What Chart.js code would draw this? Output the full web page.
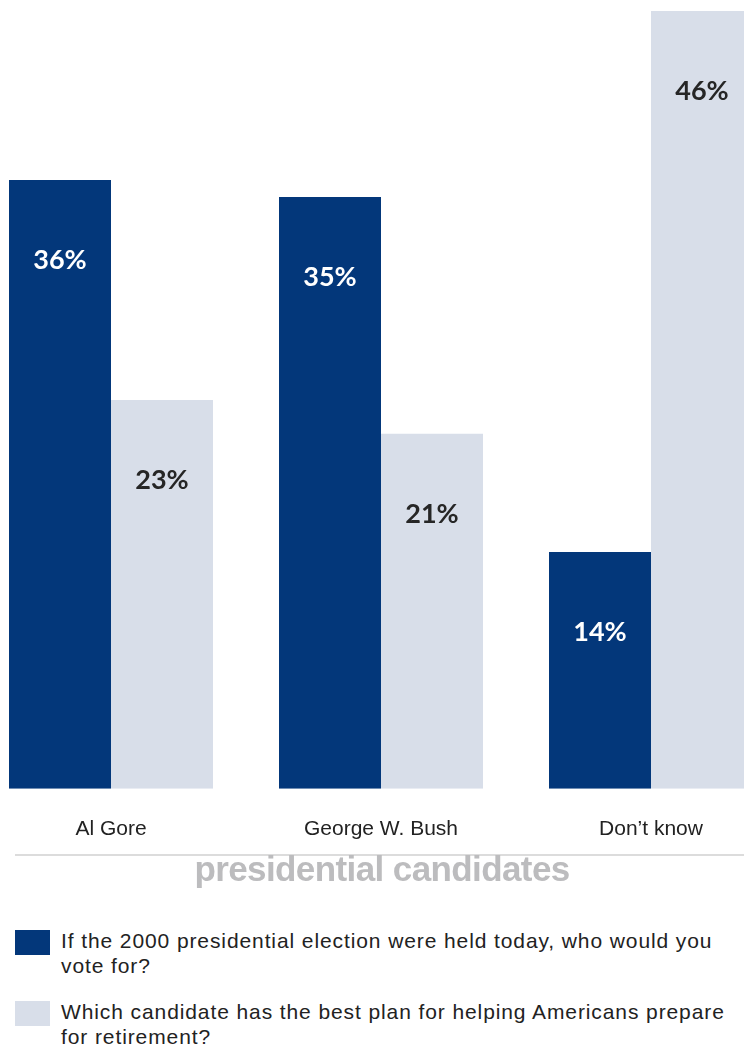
<!DOCTYPE html>
<html>
<head>
<meta charset="utf-8">
<script src="https://cdn.jsdelivr.net/npm/chart.js@4"></script>
<style>
  html, body { margin: 0; padding: 0; background: #fff; width: 744px; height: 1044px; overflow: hidden; position: relative; }
  #chart-wrap { position: absolute; left: -24px; top: 0; width: 810px; height: 870px; }
  #rule { position: absolute; left: 15px; top: 854px; width: 729px; height: 2px; background: #dcdcdc; }
  #axis-title { position: absolute; left: 0; width: 764px; top: 849px; text-align: center; font-family: "Liberation Sans", Arial, sans-serif; font-weight: bold; font-size: 35px; letter-spacing: -0.6px; color: #bcbcbe; }
  .legend-item { position: absolute; left: 15px; width: 720px; font-family: "Liberation Sans", Arial, sans-serif; font-size: 21px; letter-spacing: 0.9px; line-height: 25px; color: #222; }
  .legend-item .box { position: absolute; left: 0; top: 2px; width: 35px; height: 25px; }
  .legend-item .txt { margin-left: 46px; width: 670px; }
</style>
</head>
<body>
<div id="chart-wrap"><canvas id="pollChart" width="810" height="870"></canvas></div>
<div id="rule"></div>
<div id="axis-title">presidential candidates</div>
<div class="legend-item" style="top: 928px;"><span class="box" style="background:#03377a;"></span><div class="txt">If the 2000 presidential election were held today, who would you vote for?</div></div>
<div class="legend-item" style="top: 999px;"><span class="box" style="background:#d8dee9;"></span><div class="txt">Which candidate has the best plan for helping Americans prepare for retirement?</div></div>
<script>
const categories = ['Al Gore', 'George W. Bush', 'Don\u2019t know'];
const voteToday = [36, 35, 14];
const retirementPlan = [23, 21, 46];
const seriesColors = ['#03377a', '#d8dee9'];
const labelColors = ['#ffffff', '#262626'];

const valueLabels = {
    id: 'valueLabels',
    afterDatasetsDraw(chart) {
        const ctx = chart.ctx;
        ctx.save();
        ctx.font = 'bold 27px Lato, "Open Sans", sans-serif';
        ctx.textAlign = 'center';
        ctx.textBaseline = 'alphabetic';
        chart.data.datasets.forEach((ds, di) => {
            chart.getDatasetMeta(di).data.forEach((bar, i) => {
                ctx.fillStyle = labelColors[di];
                ctx.fillText(ds.data[i] + '%', bar.x, bar.y + 89);
            });
        });
        ctx.restore();
    }
};

new Chart(document.getElementById('pollChart').getContext('2d'), {
    type: 'bar',
    data: {
        labels: categories,
        datasets: [
            { label: 'vote', data: voteToday, backgroundColor: seriesColors[0], borderWidth: 0 },
            { label: 'plan', data: retirementPlan, backgroundColor: seriesColors[1], borderWidth: 0 }
        ]
    },
    options: {
        responsive: false,
        animation: false,
        layout: { padding: { top: 11, left: 0, right: 0, bottom: 0 } },
        datasets: { bar: { categoryPercentage: 204 / 270, barPercentage: 1.0 } },
        scales: {
            y: { display: false, min: 0, max: 46 },
            x: {
                grid: { display: false, drawTicks: false },
                border: { display: false },
                ticks: { color: '#222', padding: 28, font: { family: '"Liberation Sans", Arial, sans-serif', size: 21 } }
            }
        },
        plugins: { legend: { display: false }, tooltip: { enabled: false } }
    },
    plugins: [valueLabels]
});
</script>
</body>
</html>
